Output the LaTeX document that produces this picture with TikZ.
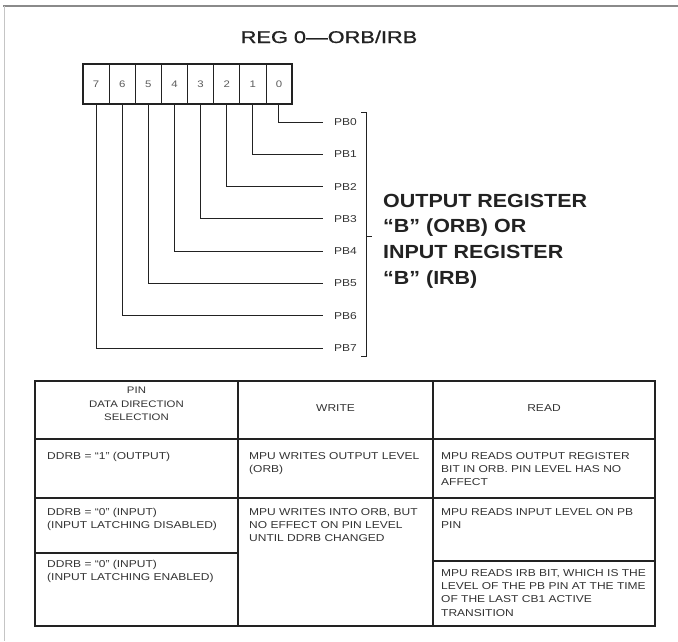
\documentclass[tikz,border=0pt]{standalone}
\usepackage{fontspec}
\setmainfont{Liberation Sans}
\newfontfamily\bodyf[FakeStretch=1.2]{Liberation Sans}
\newfontfamily\titlef[FakeStretch=1.28,FakeBold=0.8]{Liberation Sans}
\newfontfamily\boldf[FakeStretch=1.13]{Liberation Sans}
\definecolor{ink}{HTML}{222222}
\definecolor{txt}{HTML}{333333}
\definecolor{frame}{HTML}{8A8A8A}
\newcommand\fl{\rule{0pt}{8pt}}
\newcommand\hfl{\rule{0pt}{7.5pt}}
\newcommand\bfl{\rule{0pt}{14.5pt}}
\tikzset{
  cell/.style={draw=ink, line width=0.7pt, minimum width=26.125pt, minimum height=40pt, inner sep=0pt,
    text=txt!80, font=\bodyf\fontsize{9.5}{11}\selectfont},
  pblabel/.style={anchor=west, inner sep=3pt, text=txt, font=\bodyf\fontsize{10}{12}\selectfont},
  conn/.style={draw=ink, line width=0.9pt},
  tline/.style={draw=ink, line width=1.4pt},
  tcell/.style={anchor=north west, inner sep=0pt, align=left, text=txt,
    font=\bodyf\fontsize{10}{13.3}\selectfont},
  thead/.style={anchor=base, inner sep=0pt, text=txt, font=\bodyf\fontsize{10}{13.3}\selectfont},
}
\begin{document}
\begin{tikzpicture}[x=1pt,y=-1pt]
\useasboundingbox (0,0) rectangle (678,641);
\fill[white] (0,0) rectangle (678,641);
% outer frame
\draw[frame, line width=1.3pt] (3,6) -- (678,6);
\draw[frame!50, line width=1pt] (4,6) -- (4,641);
% title
\node[anchor=base, inner sep=0pt, text=ink, font=\titlef\fontsize{17}{20}\selectfont] (title) at (329,43) {REG 0—ORB/IRB};
% register cells
\foreach \k in {0,...,7} {
  \node[cell] (b\k) at ({83+26.125*(7-\k)+13.06},84) {\k};
}
\draw[ink, line width=1.8pt] (b7.north west) rectangle (b0.south east);
% PB labels and connectors
\foreach \k in {0,...,7} {
  \node[pblabel] (pb\k) at (331,{122+32.3*\k}) {PB\k};
  \draw[conn] (b\k.south) |- ([xshift=-8pt]pb\k.west);
}
% bracket
\coordinate (brt) at (366,112);
\coordinate (brb) at (366,356);
\coordinate (brm) at (366,236);
\draw[conn] ([xshift=-5pt]brt) -- (brt) -- (brb) -- ([xshift=-5pt]brb);
\draw[conn] (brm) -- ([xshift=6pt]brm);
% right text
\node[anchor=north west, inner sep=0pt, align=left, text=ink,
  font=\boldf\bfseries\fontsize{19}{25.7}\selectfont] (orb) at (383,192.5)
  {\bfl OUTPUT REGISTER\\“B” (ORB) OR\\INPUT REGISTER\\“B” (IRB)};
% table
\draw[tline] (35,381) rectangle (655,626);
\draw[tline] (238,381) -- (238,626);
\draw[tline] (433,381) -- (433,626);
\draw[tline] (35,439) -- (655,439);
\draw[tline] (35,498) -- (655,498);
\draw[tline] (35,553) -- (238,553);
\draw[tline] (433,561) -- (655,561);
% header
\node[anchor=north, inner sep=0pt, align=center, text=txt, font=\bodyf\fontsize{9.5}{13.5}\selectfont] (h1) at (136.5,386)
  {\hfl PIN\\DATA DIRECTION\\SELECTION};
\node[thead] (h2) at (335.5,411.6) {WRITE};
\node[thead] (h3) at (544,411.6) {READ};
% row 1
\node[tcell] (c11) at (47,451) {\fl DDRB = “1” (OUTPUT)};
\node[tcell] (c12) at (249,451) {\fl MPU WRITES OUTPUT LEVEL\\(ORB)};
\node[tcell] (c13) at (441,451) {\fl MPU READS OUTPUT REGISTER\\BIT IN ORB. PIN LEVEL HAS NO\\AFFECT};
% row 2
\node[tcell] (c21) at (47,507) {\fl DDRB = “0” (INPUT)\\(INPUT LATCHING DISABLED)};
\node[tcell] (c22) at (249,507) {\fl MPU WRITES INTO ORB, BUT\\NO EFFECT ON PIN LEVEL\\UNTIL DDRB CHANGED};
\node[tcell] (c23) at (441,507) {\fl MPU READS INPUT LEVEL ON PB\\PIN};
% row 3
\node[tcell] (c31) at (47,559) {\fl DDRB = “0” (INPUT)\\(INPUT LATCHING ENABLED)};
\node[tcell] (c33) at (441,568) {\fl MPU READS IRB BIT, WHICH IS THE\\LEVEL OF THE PB PIN AT THE TIME\\OF THE LAST CB1 ACTIVE\\TRANSITION};
\end{tikzpicture}
\end{document}
